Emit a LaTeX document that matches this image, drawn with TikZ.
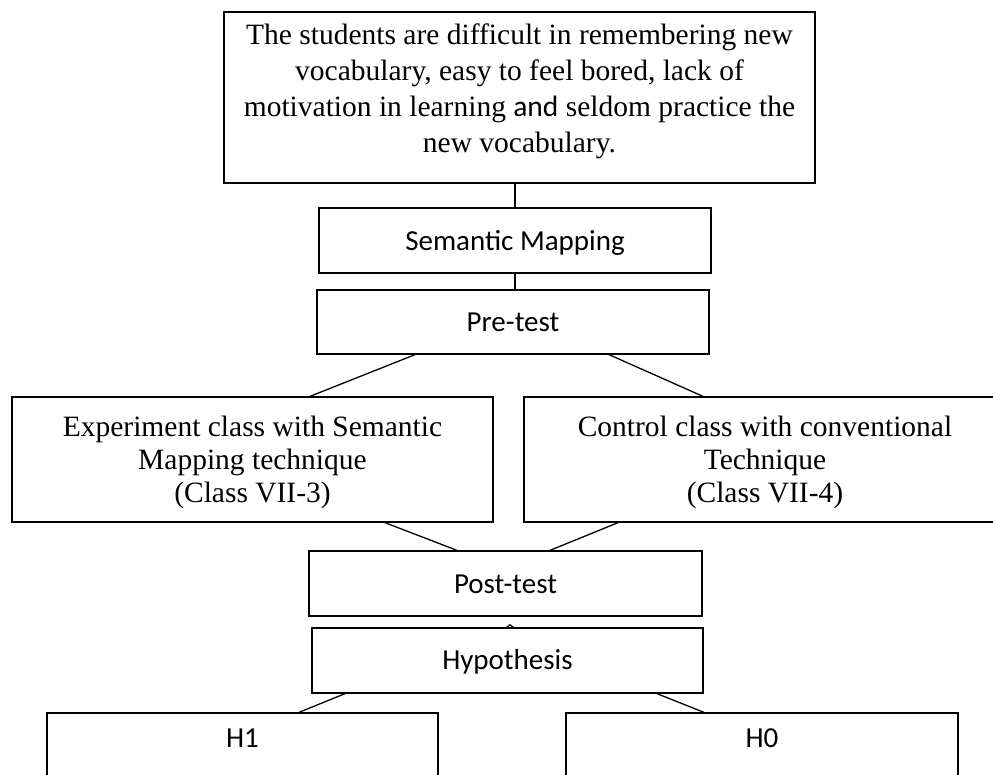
\documentclass[tikz,border=0pt]{standalone}
\usepackage{fontspec}
\setmainfont{Liberation Serif}
\newfontfamily\calibrifont{Carlito}
\begin{document}
\begin{tikzpicture}[x=1pt,y=-1pt,
  frame/.style={draw=black, line width=1.3pt, inner sep=0pt},
  link/.style={draw=black, line width=1.3pt},
  serifbody/.style={inner sep=0pt, align=center, font=\fontsize{29.5}{36}\selectfont},
  serifclass/.style={inner sep=0pt, align=center, font=\fontsize{29.5}{33}\selectfont},
  sanslabel/.style={inner sep=0pt, align=center, font=\calibrifont\fontsize{29}{34}\selectfont}]
\useasboundingbox (0,0) rectangle (993,774);
\clip (0,0) rectangle (993,774);

% boxes
\node[frame, minimum width=591pt, minimum height=171pt] (prob) at (519.5,97.5) {};
\node[frame, minimum width=392pt, minimum height=65pt] (sm) at (515,240.5) {};
\node[frame, minimum width=392pt, minimum height=64pt] (pre) at (513,322) {};
\node[frame, minimum width=481pt, minimum height=125pt] (exp) at (252.5,459.5) {};
\node[frame, minimum width=482pt, minimum height=125pt] (ctrl) at (765,459.5) {};
\node[frame, minimum width=393pt, minimum height=65pt] (post) at (505.5,583.5) {};
\node[frame, minimum width=391pt, minimum height=65pt] (hyp) at (507.5,660.5) {};
\node[frame, minimum width=391pt, minimum height=87pt] (hone) at (242.5,756.5) {};
\node[frame, minimum width=392pt, minimum height=87pt] (hzero) at (762,756.5) {};

% texts
\node[serifbody] (probtext) at (519.5,91.5) {The students are difficult in remembering new\\
  vocabulary, easy to feel bored, lack of\\
  motivation in learning {\calibrifont and} seldom practice the\\
  new vocabulary.};
\node[sanslabel] (smtext) at (515,243) {Semantic Mapping};
\node[sanslabel] (pretext) at (513,322) {Pre-test};
\node[serifclass] (exptext) at (252.5,462) {Experiment class with Semantic\\Mapping technique\\(Class VII-3)};
\node[serifclass] (ctrltext) at (765,462) {Control class with conventional\\Technique\\(Class VII-4)};
\node[sanslabel] (posttext) at (505.5,584) {Post-test};
\node[sanslabel] (hyptext) at (507.5,662) {Hypothesis};
\node[sanslabel] (honetext) at (242.5,738) {H1};
\node[sanslabel] (hzerotext) at (762,738) {H0};

% connectors
\draw[link] (sm.north) -- (sm.north |- prob.south);
\draw[link] (sm.south) -- (sm.south |- pre.north);
\draw[link] ([xshift=-98pt]pre.south) -- ([xshift=57.5pt]exp.north);
\draw[link] ([xshift=96pt]pre.south) -- ([xshift=-62pt]ctrl.north);
\draw[link] ([xshift=132.5pt]exp.south) -- ([xshift=-48.5pt]post.north);
\draw[link] ([xshift=-147pt]ctrl.south) -- ([xshift=44.5pt]post.north);
\draw[link] ([xshift=-1pt]hyp.north) -- ([xshift=2.5pt,yshift=2.5pt]hyp.north) -- ([xshift=6pt]hyp.north);
\draw[link] ([xshift=-162.5pt]hyp.south) -- ([xshift=56.5pt]hone.north);
\draw[link] ([xshift=149.5pt]hyp.south) -- ([xshift=-58pt]hzero.north);
\end{tikzpicture}
\end{document}
